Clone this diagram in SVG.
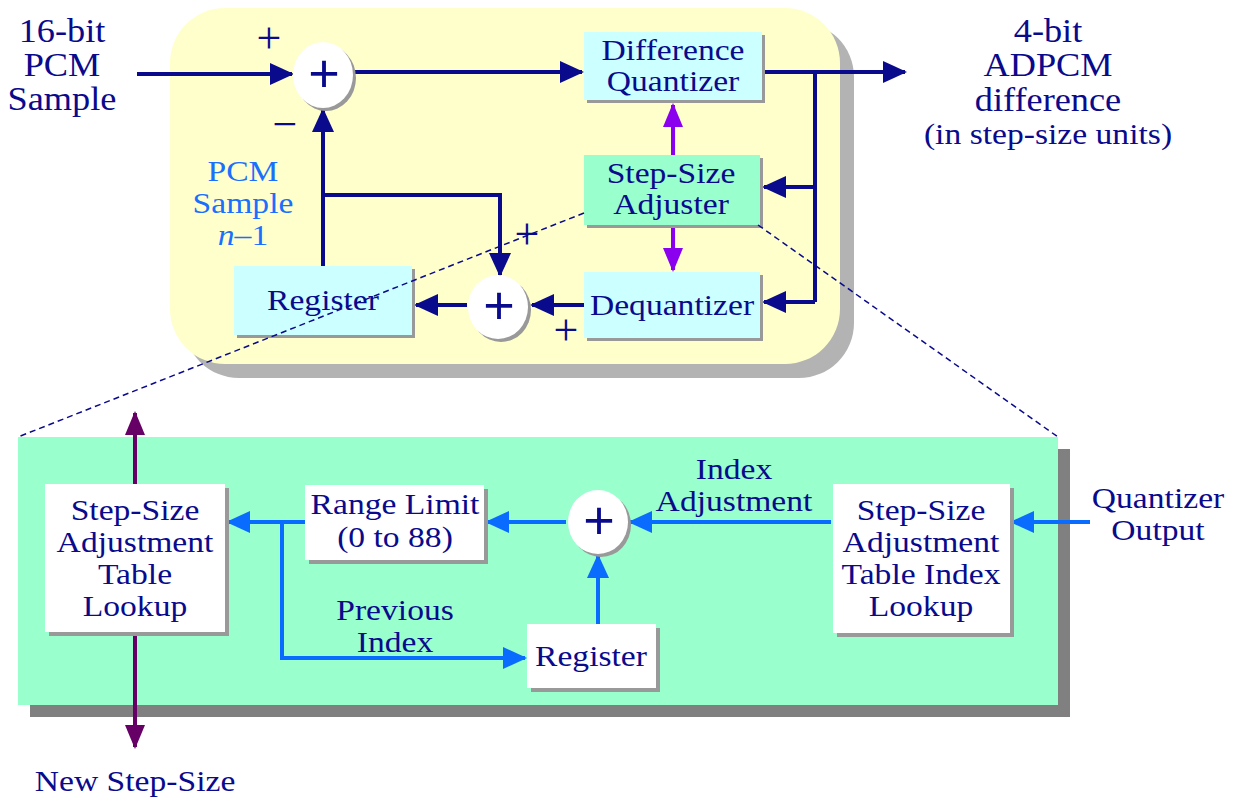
<svg xmlns="http://www.w3.org/2000/svg" width="1238" height="799" viewBox="0 0 1238 799">
  <style>
    text { font-family: "Liberation Serif", "Times New Roman", serif; fill: #0a0a8c; text-anchor: middle; font-size: 30px; }
    .big { font-size: 33px; }
    .sign { font-size: 44px; }
    .plus { font-size: 54px; font-family: "Liberation Sans", Arial, sans-serif; }
    .blueTxt { fill: #1a6fff; }
    .cyan { fill: #ccffff; }
    .green { fill: #99ffcc; }
    .white { fill: #ffffff; }
    .shadow { fill: #999999; }
    .navy { stroke: #0a0a8c; stroke-width: 4; fill: none; }
    .blue { stroke: #0a6cff; stroke-width: 4; fill: none; }
    .violet { stroke: #8a00ee; stroke-width: 4; fill: none; }
    .plum { stroke: #660066; stroke-width: 4; fill: none; }
    .dash { stroke: #0a0a8c; stroke-width: 1.5; fill: none; stroke-dasharray: 6 4; }
  </style>
  <defs>
    <marker id="aNavy" markerUnits="userSpaceOnUse" markerWidth="24" markerHeight="24" viewBox="0 0 24 24" refX="22" refY="12" orient="auto">
      <path d="M0,1 L24,12 L0,23 z" fill="#0a0a8c"/>
    </marker>
    <marker id="aBlue" markerUnits="userSpaceOnUse" markerWidth="24" markerHeight="24" viewBox="0 0 24 24" refX="22" refY="12" orient="auto">
      <path d="M0,1 L24,12 L0,23 z" fill="#0a6cff"/>
    </marker>
    <marker id="aViolet" markerUnits="userSpaceOnUse" markerWidth="24" markerHeight="24" viewBox="0 0 24 24" refX="22" refY="12" orient="auto">
      <path d="M0,2 L24,12 L0,22 z" fill="#8a00ee"/>
    </marker>
    <marker id="aPlum" markerUnits="userSpaceOnUse" markerWidth="24" markerHeight="24" viewBox="0 0 24 24" refX="22" refY="12" orient="auto">
      <path d="M0,2 L24,12 L0,22 z" fill="#660066"/>
    </marker>
  </defs>

  <!-- encoder panel -->
  <g id="encoder-panel">
    <rect x="184" y="22" width="670" height="356" rx="55" fill="#b3b3b3"/>
    <rect x="170" y="8" width="670" height="356" rx="55" fill="#ffffcc"/>
  </g>

  <!-- step-size adjuster detail panel -->
  <g id="detail-panel">
    <rect x="30" y="449" width="1040" height="268" fill="#808080"/>
    <rect x="18" y="437" width="1040" height="268" fill="#99ffcc"/>
  </g>

  <!-- outer labels -->
  <g id="label-input">
    <text class="big" transform="translate(62 42) scale(1.1 1)">16-bit</text>
    <text class="big" transform="translate(62 76) scale(1.1 1)">PCM</text>
    <text class="big" transform="translate(62 110) scale(1.1 1)">Sample</text>
  </g>
  <g id="label-output">
    <text class="big" transform="translate(1048 42) scale(1.1 1)">4-bit</text>
    <text class="big" transform="translate(1048 76) scale(1.1 1)">ADPCM</text>
    <text class="big" transform="translate(1048 111) scale(1.1 1)">difference</text>
    <text transform="translate(1048 144) scale(1.12 1)">(in step-size units)</text>
  </g>
  <g id="label-prev-sample">
    <text class="blueTxt" transform="translate(243 181) scale(1.12 1)">PCM</text>
    <text class="blueTxt" transform="translate(243 213) scale(1.12 1)">Sample</text>
    <text class="blueTxt" transform="translate(243 245) scale(1.12 1)"><tspan font-style="italic">n</tspan>–1</text>
  </g>

  <!-- connectors -->
  <g id="connectors">
    <!-- encoder loop -->
    <line class="navy" x1="137" y1="74" x2="292" y2="74" marker-end="url(#aNavy)"/>
    <line class="navy" x1="355" y1="72" x2="582" y2="72" marker-end="url(#aNavy)"/>
    <line class="navy" x1="762" y1="72" x2="905" y2="72" marker-end="url(#aNavy)"/>
    <polyline class="navy" points="815,72 815,302"/>
    <line class="navy" x1="815" y1="187" x2="764" y2="187" marker-end="url(#aNavy)"/>
    <line class="navy" x1="815" y1="302" x2="764" y2="302" marker-end="url(#aNavy)"/>
    <line class="navy" x1="584" y1="305" x2="532" y2="305" marker-end="url(#aNavy)"/>
    <line class="navy" x1="467" y1="305" x2="416" y2="305" marker-end="url(#aNavy)"/>
    <line class="navy" x1="323" y1="266" x2="323" y2="110" marker-end="url(#aNavy)"/>
    <polyline class="navy" points="323,195 500,195 500,275" marker-end="url(#aNavy)"/>
    <line class="violet" x1="673" y1="155" x2="673" y2="105" marker-end="url(#aViolet)"/>
    <line class="violet" x1="673" y1="226" x2="673" y2="270" marker-end="url(#aViolet)"/>
    <!-- detail loop -->
    <line class="blue" x1="1090" y1="522" x2="1012" y2="522" marker-end="url(#aBlue)"/>
    <line class="blue" x1="831" y1="522" x2="630" y2="522" marker-end="url(#aBlue)"/>
    <line class="blue" x1="566" y1="522" x2="487" y2="522" marker-end="url(#aBlue)"/>
    <line class="blue" x1="305" y1="522" x2="228" y2="522" marker-end="url(#aBlue)"/>
    <polyline class="blue" points="282,522 282,658 525,658" marker-end="url(#aBlue)"/>
    <line class="blue" x1="598" y1="624" x2="598" y2="556" marker-end="url(#aBlue)"/>
    <line class="plum" x1="135" y1="484" x2="135" y2="413" marker-end="url(#aPlum)"/>
    <line class="plum" x1="135" y1="632" x2="135" y2="747" marker-end="url(#aPlum)"/>
  </g>

  <!-- encoder nodes -->
  <g id="sum-input">
    <ellipse cx="326" cy="78" rx="30" ry="33" class="shadow"/>
    <ellipse cx="323" cy="75" rx="30" ry="33" class="white"/>
    <text class="plus" x="324" y="92">+</text>
  </g>
  <g id="difference-quantizer">
    <rect x="587" y="35" width="178" height="68" class="shadow"/>
    <rect x="584" y="32" width="178" height="68" class="cyan"/>
    <text transform="translate(673 60) scale(1.12 1)">Difference</text>
    <text transform="translate(673 91) scale(1.12 1)">Quantizer</text>
  </g>
  <g id="step-size-adjuster">
    <rect x="587" y="158" width="176" height="70" class="shadow"/>
    <rect x="584" y="155" width="176" height="70" class="green"/>
    <text transform="translate(671 183) scale(1.12 1)">Step-Size</text>
    <text transform="translate(671 214) scale(1.12 1)">Adjuster</text>
  </g>
  <g id="dequantizer">
    <rect x="587" y="275" width="176" height="66" class="shadow"/>
    <rect x="584" y="272" width="176" height="66" class="cyan"/>
    <text transform="translate(672 315) scale(1.12 1)">Dequantizer</text>
  </g>
  <g id="sum-feedback">
    <ellipse cx="501" cy="310" rx="30" ry="32" class="shadow"/>
    <ellipse cx="498" cy="307" rx="30" ry="32" class="white"/>
    <text class="plus" x="499" y="324">+</text>
  </g>
  <g id="register-encoder">
    <rect x="237" y="269" width="178" height="69" class="shadow"/>
    <rect x="234" y="266" width="178" height="69" class="cyan"/>
    <text transform="translate(323 310) scale(1.12 1)">Register</text>
  </g>
  <g id="signs">
    <text class="sign" x="269" y="53">+</text>
    <text class="sign" x="285" y="139">−</text>
    <text class="sign" x="527" y="249">+</text>
    <text class="sign" x="566" y="345">+</text>
  </g>

  <!-- detail nodes -->
  <g id="table-lookup">
    <rect x="49" y="488" width="180" height="148" class="shadow"/>
    <rect x="45" y="484" width="180" height="148" class="white"/>
    <text transform="translate(135 520) scale(1.12 1)">Step-Size</text>
    <text transform="translate(135 552) scale(1.12 1)">Adjustment</text>
    <text transform="translate(135 584) scale(1.12 1)">Table</text>
    <text transform="translate(135 616) scale(1.12 1)">Lookup</text>
  </g>
  <g id="range-limit">
    <rect x="309" y="489" width="179" height="75" class="shadow"/>
    <rect x="305" y="485" width="179" height="75" class="white"/>
    <text transform="translate(395 514) scale(1.12 1)">Range Limit</text>
    <text transform="translate(395 547) scale(1.12 1)">(0 to 88)</text>
  </g>
  <g id="sum-index">
    <ellipse cx="601" cy="525" rx="30" ry="32" class="shadow"/>
    <ellipse cx="598" cy="522" rx="30" ry="32" class="white"/>
    <text class="plus" x="599" y="539">+</text>
  </g>
  <g id="register-index">
    <rect x="531" y="628" width="129" height="64" class="shadow"/>
    <rect x="527" y="624" width="129" height="64" class="white"/>
    <text transform="translate(591 666) scale(1.12 1)">Register</text>
  </g>
  <g id="index-lookup">
    <rect x="837" y="488" width="177" height="149" class="shadow"/>
    <rect x="833" y="484" width="177" height="149" class="white"/>
    <text transform="translate(921 520) scale(1.12 1)">Step-Size</text>
    <text transform="translate(921 552) scale(1.12 1)">Adjustment</text>
    <text transform="translate(921 584) scale(1.12 1)">Table Index</text>
    <text transform="translate(921 616) scale(1.12 1)">Lookup</text>
  </g>
  <g id="detail-labels">
    <text transform="translate(734 479) scale(1.12 1)">Index</text>
    <text transform="translate(734 511) scale(1.12 1)">Adjustment</text>
    <text transform="translate(395 620) scale(1.12 1)">Previous</text>
    <text transform="translate(395 652) scale(1.12 1)">Index</text>
    <text transform="translate(1158 508) scale(1.12 1)">Quantizer</text>
    <text transform="translate(1158 540) scale(1.12 1)">Output</text>
    <text transform="translate(135 791) scale(1.12 1)">New Step-Size</text>
  </g>

  <!-- zoom guides from the adjuster to the detail panel -->
  <g id="zoom-guides">
    <line class="dash" x1="584" y1="213" x2="18" y2="437"/>
    <line class="dash" x1="758" y1="225" x2="1058" y2="437"/>
  </g>
</svg>
